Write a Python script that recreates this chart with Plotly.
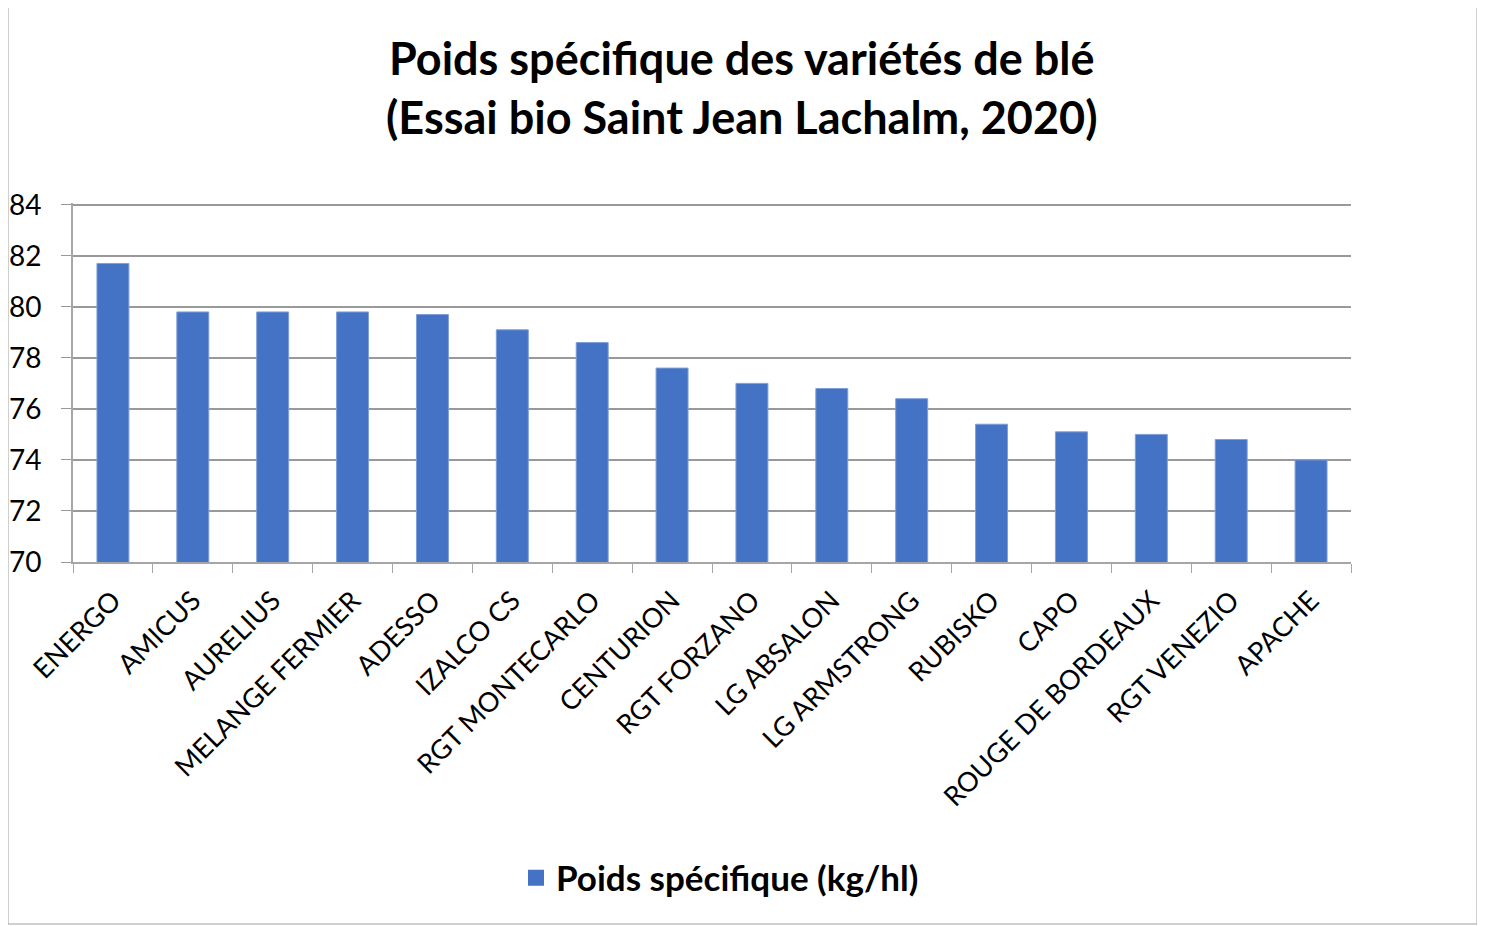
import plotly.graph_objects as go

categories = ["ENERGO", "AMICUS", "AURELIUS", "MELANGE FERMIER", "ADESSO", "IZALCO CS",
              "RGT MONTECARLO", "CENTURION", "RGT FORZANO", "LG ABSALON", "LG ARMSTRONG",
              "RUBISKO", "CAPO", "ROUGE DE BORDEAUX", "RGT VENEZIO", "APACHE"]
values = [81.7, 79.8, 79.8, 79.8, 79.7, 79.1, 78.6, 77.6, 77.0, 76.8, 76.4,
          75.4, 75.1, 75.0, 74.8, 74.0]
series_name = "Poids spécifique (kg/hl)"
title_lines = ["Poids spécifique des variétés de blé", "(Essai bio Saint Jean Lachalm, 2020)"]
y_ticks = [70, 72, 74, 76, 78, 80, 82, 84]

FONT = "Lato, 'Open Sans', sans-serif"
BLUE = "#4472C4"
OFF = 8  # page body margin
W, H = 1485, 926
L, T = 73 - OFF, 203 - OFF
PLOT_RIGHT, PLOT_BOTTOM = 1351 - OFF, 562 - OFF
pw = PLOT_RIGHT - L
ph = PLOT_BOTTOM - T
R = W - PLOT_RIGHT
B = H - PLOT_BOTTOM

fig = go.Figure()
fig.add_trace(go.Bar(
    x=categories, y=values, name=series_name,
    marker=dict(color=BLUE, line=dict(color="#7f9fd6", width=1)),
    showlegend=False,
))
# legend entry with a larger square key
fig.add_trace(go.Scatter(
    x=[None], y=[None], mode="markers", name=f"<b>{series_name}</b>",
    marker=dict(symbol="square", size=22, color=BLUE), showlegend=True,
))

def px_x(p):
    return (p - OFF - L) / pw

def px_y(p):
    return (PLOT_BOTTOM - (p - OFF)) / ph

annotations = []
for line, yp in zip(title_lines, [58, 117]):
    annotations.append(dict(text=f"<b>{line}</b>", x=px_x(742), y=px_y(yp), xref="paper", yref="paper",
                            showarrow=False, xanchor="center", yanchor="middle",
                            font=dict(family=FONT, size=45, color="black")))

fig.update_layout(
    width=W, height=H,
    margin=dict(l=L, r=R, t=T, b=B, autoexpand=False),
    paper_bgcolor="white", plot_bgcolor="white",
    bargap=0.6,
    font=dict(family=FONT, color="black"),
    annotations=annotations,
    legend=dict(orientation="h", x=px_x(720), y=px_y(878), xanchor="center", yanchor="middle",
                font=dict(family=FONT, size=35, color="black"), itemsizing="trace",
                bgcolor="rgba(0,0,0,0)"),
    shapes=[dict(type="rect", xref="paper", yref="paper",
                 x0=px_x(8), x1=px_x(1477), y0=px_y(924), y1=px_y(6),
                 line=dict(color="#a0a0a0", width=1), fillcolor="rgba(0,0,0,0)", layer="below")],
)
fig.update_xaxes(
    tickangle=-45, tickfont=dict(family=FONT, size=27, color="black"),
    showline=True, linecolor="#a6a6a6", linewidth=2,
    ticks="outside", ticklen=9, tickcolor="#a6a6a6", tickson="boundaries",
    ticklabelstandoff=10,
    showgrid=False,
)
fig.update_yaxes(
    range=[70, 84.07], tickvals=y_ticks, tickfont=dict(family=FONT, size=28, color="black"),
    showline=True, linecolor="#a6a6a6", linewidth=2,
    ticks="outside", ticklen=10, tickcolor="#999999",
    ticklabelstandoff=14,
    showgrid=True, gridcolor="#999999", gridwidth=1.5, zeroline=False,
)
fig.write_html("out.html")
